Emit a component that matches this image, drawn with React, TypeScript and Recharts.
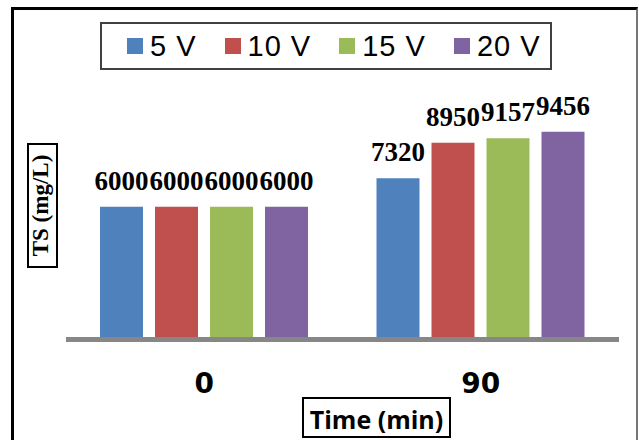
import React from 'react';
import { BarChart, Bar, XAxis, YAxis, Legend, LabelList } from 'recharts';

// Total solids over time at each applied voltage
const categories = ['0', '90'];
const seriesNames = ['5 V', '10 V', '15 V', '20 V'];
const seriesKeys = ['v5', 'v10', 'v15', 'v20'];
const values5V = [6000, 7320];
const values10V = [6000, 8950];
const values15V = [6000, 9157];
const values20V = [6000, 9456];
const seriesColors = ['#4F81BD', '#C0504D', '#9BBB59', '#8064A2'];

const seriesValues = [values5V, values10V, values15V, values20V];

const data = categories.map((time, i) => {
  const row: Record<string, string | number> = { time };
  seriesKeys.forEach((k, s) => {
    row[k] = seriesValues[s][i];
  });
  return row;
});

const renderLegend = (props: any) => {
  const payload = [...(props.payload || [])].sort(
    (a: any, b: any) => seriesNames.indexOf(a.value) - seriesNames.indexOf(b.value)
  );
  return (
    <div
      style={{
        boxSizing: 'border-box',
        width: '100%',
        height: '100%',
        border: '2px solid #404040',
        display: 'flex',
        alignItems: 'center',
        paddingLeft: 25,
        fontFamily: '"Liberation Sans", Arial, sans-serif',
        fontSize: 29,
        letterSpacing: 1,
        color: '#000',
      }}
    >
      {payload.map((entry: any, i: number) => (
        <div
          key={entry.value}
          style={{ display: 'flex', alignItems: 'center', marginLeft: i === 0 ? 0 : 28 }}
        >
          <span
            style={{
              display: 'inline-block',
              width: 16,
              height: 16,
              background: entry.color,
              marginRight: 7,
            }}
          />
          <span style={{ lineHeight: '32px' }}>{entry.value}</span>
        </div>
      ))}
    </div>
  );
};

const labelStyle = {
  fill: '#000',
  fontSize: 27,
  fontWeight: 700,
  fontFamily: '"Liberation Serif", "Times New Roman", serif',
};

export default function App() {
  return (
    <div
      style={{
        position: 'absolute',
        left: 0,
        top: 0,
        width: 639,
        height: 440,
        overflow: 'hidden',
        background: '#fff',
      }}
    >
      {/* frame */}
      <div
        style={{
          position: 'absolute',
          left: 11,
          top: 7,
          width: 627,
          height: 500,
          boxSizing: 'border-box',
          borderTop: '3px solid #000',
          borderLeft: '3px solid #000',
          borderRight: '2px solid #777',
        }}
      />
      <BarChart
        width={639}
        height={440}
        data={data}
        margin={{ top: 120, right: 20, bottom: 60.5, left: 66 }}
        barCategoryGap={34}
        barGap={12}
      >
        <XAxis
          dataKey="time"
          height={40}
          axisLine={{ stroke: '#878787', strokeWidth: 5 }}
          tickLine={false}
          tickMargin={28}
          tick={{
            fill: '#000',
            fontSize: 28,
            fontWeight: 700,
            fontFamily: '"DejaVu Sans", sans-serif',
          }}
        />
        <YAxis hide domain={[-115, 10000]} />
        <Legend
          layout="horizontal"
          verticalAlign="middle"
          align="center"
          content={renderLegend}
          wrapperStyle={{ left: 100, top: 22, width: 452, height: 48 }}
        />
        {seriesKeys.map((k, s) => (
          <Bar
            key={k}
            dataKey={k}
            name={seriesNames[s]}
            fill={seriesColors[s]}
            isAnimationActive={false}
          >
            <LabelList dataKey={k} position="top" offset={17} {...labelStyle} />
          </Bar>
        ))}
      </BarChart>
      {/* y-axis title */}
      <div
        style={{
          position: 'absolute',
          left: 27,
          top: 143,
          width: 31,
          height: 125,
          boxSizing: 'border-box',
          border: '2px solid #000',
          background: '#fff',
        }}
      >
        <svg width={27} height={121} style={{ display: 'block' }}>
          <text
            transform="rotate(-90)"
            x={-60.5}
            y={19}
            textAnchor="middle"
            fill="#000"
            fontSize={23}
            fontWeight={700}
            fontFamily='"Liberation Serif", "Times New Roman", serif'
          >
            TS (mg/L)
          </text>
        </svg>
      </div>
      {/* x-axis title */}
      <div
        style={{
          position: 'absolute',
          left: 302,
          top: 397,
          width: 149,
          height: 41,
          boxSizing: 'border-box',
          border: '2px solid #000',
          background: '#fff',
          textAlign: 'center',
          fontFamily: '"Open Sans", sans-serif',
          fontWeight: 700,
          fontSize: 25,
          lineHeight: '34px',
          paddingTop: 3,
          color: '#000',
          whiteSpace: 'nowrap',
        }}
      >
        Time (min)
      </div>
    </div>
  );
}
